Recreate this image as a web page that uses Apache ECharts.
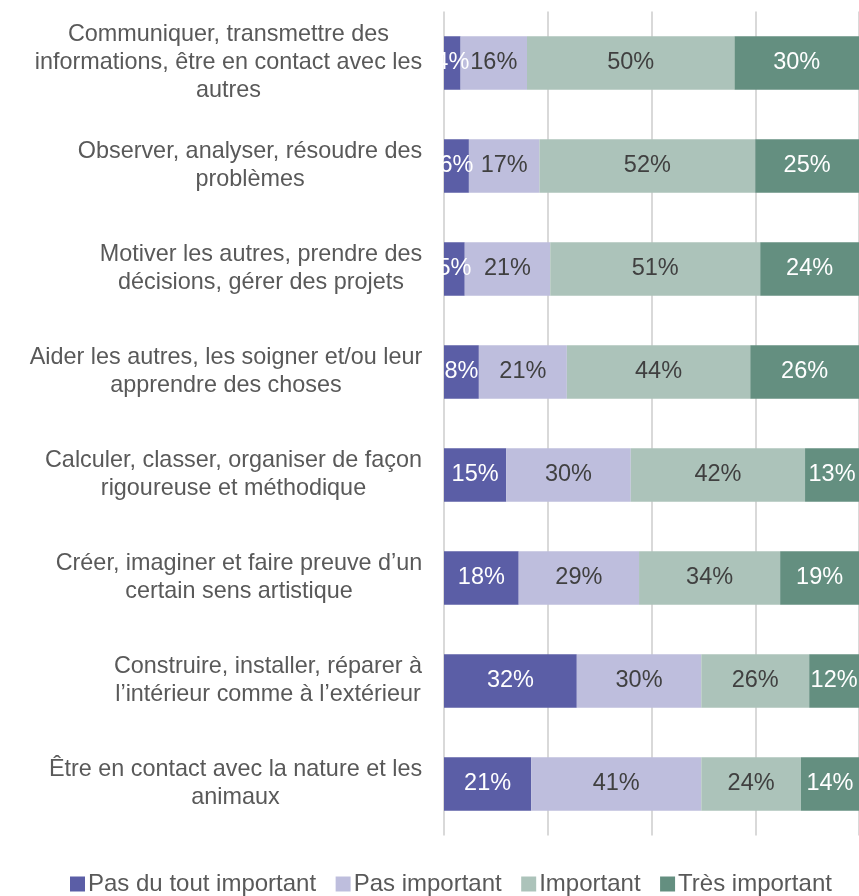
<!DOCTYPE html>
<html>
<head>
<meta charset="utf-8">
<script src="https://cdn.jsdelivr.net/npm/echarts@6/dist/echarts.min.js"></script>
<style>
html,body{margin:0;padding:0;background:#fff;}
#chart{width:859px;height:896px;}
</style>
</head>
<body>
<div id="chart"></div>
<script>
const categories = [
  "Communiquer, transmettre des\ninformations, être en contact avec les\nautres",
  "Observer, analyser, résoudre des\nproblèmes",
  "Motiver les autres, prendre des\ndécisions, gérer des projets",
  "Aider les autres, les soigner et/ou leur\napprendre des choses",
  "Calculer, classer, organiser de façon\nrigoureuse et méthodique",
  "Créer, imaginer et faire preuve d’un\ncertain sens artistique",
  "Construire, installer, réparer à\nl’intérieur comme à l’extérieur",
  "Être en contact avec la nature et les\nanimaux"
];
const seriesNames = ["Pas du tout important", "Pas important", "Important", "Très important"];
const pasDuTout   = [4, 6, 5, 8.4, 15, 18, 32, 21];
const pasImportant = [16, 17, 20.6, 21.2, 30, 29, 30, 41];
const important   = [50, 52, 50.6, 44.2, 42, 34, 26, 24];
const tresImportant = [30, 25, 23.8, 26.2, 13, 19, 12, 14];
const xTicks = [0, 25, 50, 75, 100];

const colors = ["#5B5EA6", "#BEBEDD", "#ACC3BA", "#648F80"];
const labelColors = ["#FFFFFF", "#404040", "#404040", "#FFFFFF"];
const FONT = "'Liberation Sans', Arial, sans-serif";
const CAT_SIZE = 23.4;

// measure widest line of each category to center lines within a right-aligned block
const ctx = document.createElement('canvas').getContext('2d');
ctx.font = CAT_SIZE + "px 'Liberation Sans'";
const rich = {};
categories.forEach((c, i) => {
  const w = Math.max(...c.split('\n').map(l => ctx.measureText(l).width));
  rich['b' + i] = {width: Math.ceil(w) + 1, align: 'center', fontSize: CAT_SIZE, fontFamily: FONT, color: '#595959', lineHeight: 28};
});

const dataSets = [pasDuTout, pasImportant, important, tresImportant];
const series = seriesNames.map((name, k) => ({
  name: name,
  type: 'bar',
  stack: 'total',
  barCategoryGap: '48%',
  data: dataSets[k],
  itemStyle: {color: colors[k]},
  label: {
    show: true,
    position: 'inside',
    color: labelColors[k],
    fontSize: 23.5,
    fontFamily: FONT,
    formatter: p => Math.round(p.value) + '%'
  },
  emphasis: {disabled: true},
  animation: false
}));

const chart = echarts.init(document.getElementById('chart'), null, {renderer: 'canvas'});
chart.setOption({
  animation: false,
  grid: {left: 444, right: -1, top: 11.5, bottom: 60.5, containLabel: false},
  xAxis: {
    type: 'value', min: xTicks[0], max: xTicks[xTicks.length - 1], interval: xTicks[1] - xTicks[0],
    axisLabel: {show: false}, axisLine: {show: false}, axisTick: {show: false},
    splitLine: {show: true, lineStyle: {color: '#D9D9D9', width: 2}}
  },
  yAxis: {
    type: 'category', inverse: true, data: categories,
    axisLine: {show: false}, axisTick: {show: false},
    axisLabel: {
      margin: 21,
      align: 'right',
      formatter: (v, i) => v.split('\n').map(l => '{b' + i + '|' + l + '}').join('\n'),
      rich: rich
    }
  },
  legend: {
    data: seriesNames,
    left: 65, top: 867,
    icon: 'rect', itemWidth: 15, itemHeight: 15, itemGap: 19.5,
    textStyle: {fontSize: 24, fontFamily: FONT, color: '#595959', padding: [0, 0, 0, -2]}
  },
  series: series
});
</script>
</body>
</html>
